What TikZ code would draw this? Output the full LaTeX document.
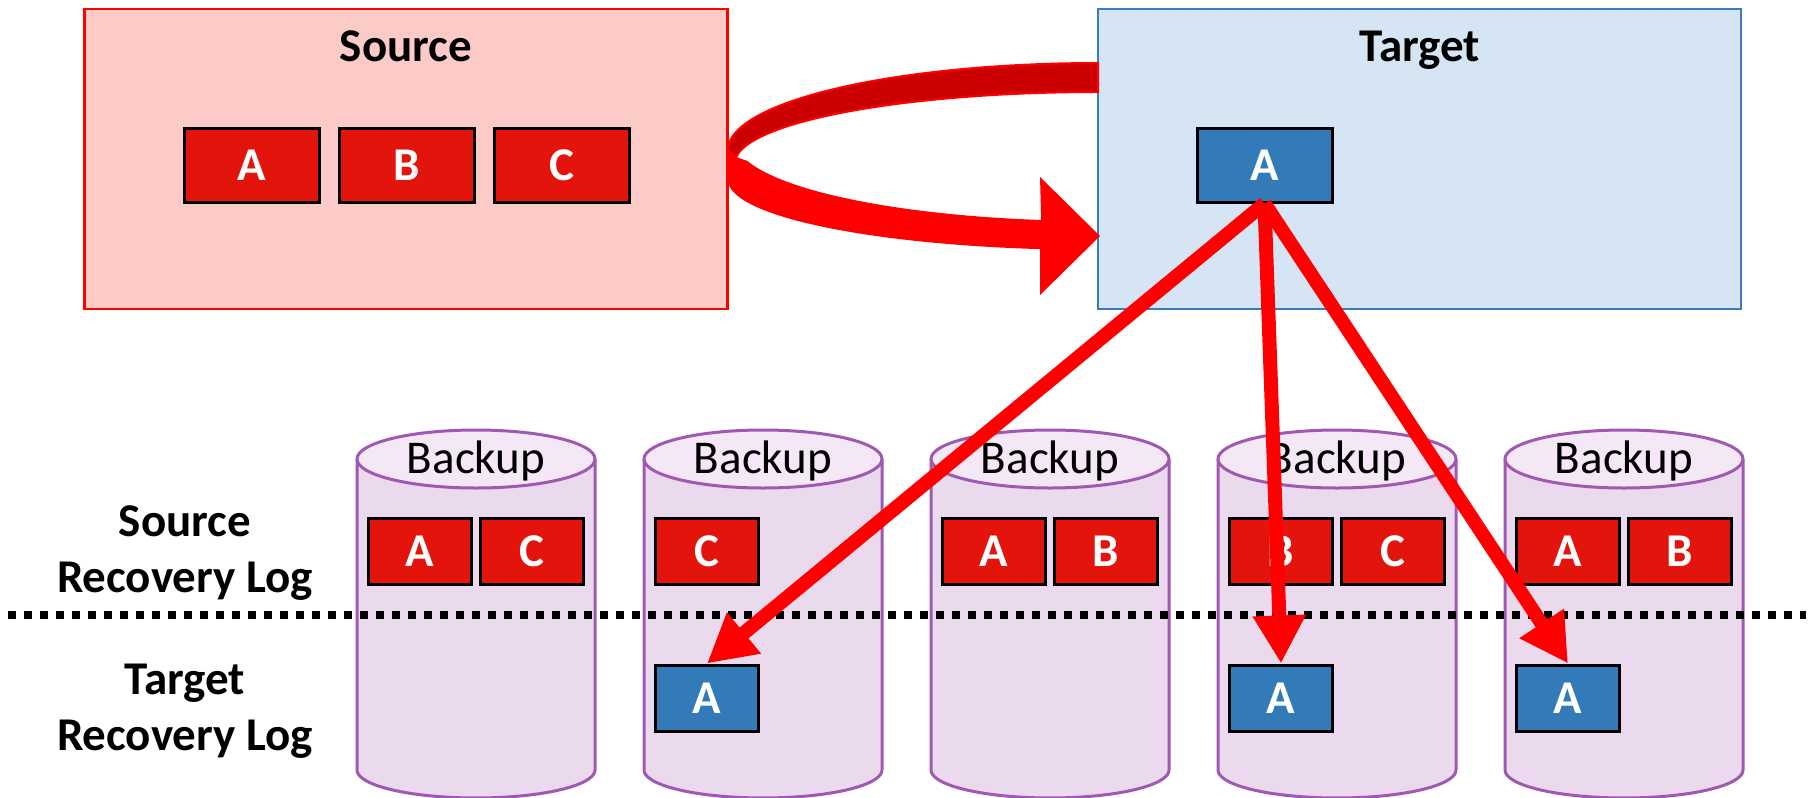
\documentclass[tikz,border=0pt]{standalone}
\usepackage{fontspec}
\setmainfont{Carlito}
\usetikzlibrary{arrows.meta}
\definecolor{srcfill}{HTML}{FCCBC8}
\definecolor{tgtfill}{HTML}{D5E5F3}
\definecolor{tgtline}{HTML}{3A7DBE}
\definecolor{redbox}{HTML}{E3140C}
\definecolor{bluebox}{HTML}{327BB8}
\definecolor{cylfill}{HTML}{EBDAEE}
\definecolor{cyltop}{HTML}{F4E8F6}
\definecolor{cylline}{HTML}{9F59B2}
\definecolor{darkband}{HTML}{CC0000}
\newcommand{\bigtext}{\fontsize{47}{56}\selectfont}
\tikzset{
  pane/.style={minimum width=643pt, minimum height=300pt, line width=2.5pt},
  blk/.style={draw=black, line width=3pt, text=white, font=\bigtext\bfseries, inner sep=0pt,
    minimum width=135pt, minimum height=74pt},
  rblk/.style={blk, fill=redbox},
  bblk/.style={blk, fill=bluebox},
  small/.style={minimum width=103pt, minimum height=66pt},
  ptr/.style={red, line width=14pt, -{Triangle[length=48pt,width=50pt]}}
}
\begin{document}
\begin{tikzpicture}[x=1pt,y=-1pt,font=\bigtext]
\useasboundingbox (0,0) rectangle (1816,798);
% source and target
\node[pane, draw=red, fill=srcfill] (src) at (406,159) {};
\node[pane, draw=tgtline, fill=tgtfill] (tgt) at (1419.5,159) {};
\node[anchor=base, font=\bigtext\bfseries] (srctitle) at (406,61) {Source};
\node[anchor=base, font=\bigtext\bfseries] (tgttitle) at (1419.5,61) {Target};
\node[rblk] (sa) at (252,165) {A};
\node[rblk] (sb) at (407,165) {B};
\node[rblk] (sc) at (562,165) {C};
\node[bblk] (ta) at (1264.5,165) {A};
% turning arrow, back half then front half
\coordinate (turn) at (736,157);
\filldraw[fill=darkband, draw=red, line width=2pt]
  plot[domain=270:180, samples=40] ({1098+370*cos(\x)},{150+87*sin(\x)})
  -- (turn)
  -- plot[domain=175:270, samples=40] ({1098+363*cos(\x)},{163+71*sin(\x)}) -- cycle;
\fill[red] (728,150)
  -- plot[domain=180:99, samples=40] ({1098+370*cos(\x)},{180+70*sin(\x)})
  -- (1040,295) -- (1100,236) -- (1040,177)
  -- plot[domain=99:165, samples=40] ({1098+363*cos(\x)},{140+81*sin(\x)})
  -- (turn) -- cycle;
% backups
\foreach \c [count=\i] in {476,763,1050,1337,1624} {
  \fill[cylfill] (\c-119,459) -- plot[domain=180:0, samples=40] ({\c+119*cos(\x)},{770+28*sin(\x)})
    -- (\c+119,459) -- cycle;
  \draw[cylline, line width=3pt] (\c-119,459)
    -- plot[domain=180:0, samples=40] ({\c+119*cos(\x)},{770+28*sin(\x)}) -- (\c+119,459);
  \filldraw[fill=cyltop, draw=cylline, line width=3pt] (\c,459) ellipse [x radius=119, y radius=29];
  \node[anchor=base] (bk\i) at (\c,473) {Backup};
}
\node[rblk, small] (b1a) at (420,551) {A};
\node[rblk, small] (b1c) at (532,551) {C};
\node[rblk, small] (b2c) at (707,551) {C};
\node[rblk, small] (b3a) at (994,551) {A};
\node[rblk, small] (b3b) at (1106,551) {B};
\node[rblk, small] (b4b) at (1281,551) {B};
\node[rblk, small] (b4c) at (1393,551) {C};
\node[rblk, small] (b5a) at (1568,551) {A};
\node[rblk, small] (b5b) at (1680,551) {B};
\node[bblk, small] (t2) at (707,698) {A};
\node[bblk, small] (t4) at (1281,698) {A};
\node[bblk, small] (t5) at (1568,698) {A};
% divider
\coordinate (dl) at (8,615);
\coordinate (dr) at (1806,615);
\draw[line width=8pt, dash pattern=on 8pt off 8pt] (dl) -- (dr);
\node[align=center, font=\bigtext\bfseries] (srclog) at (185,553) {Source\\Recovery Log};
\node[align=center, font=\bigtext\bfseries] (tgtlog) at (185,711) {Target\\Recovery Log};
% copies of A
\draw[ptr] (ta.south) -- (t2.north);
\draw[ptr] (ta.south) -- (t4.north);
\draw[ptr] (ta.south) -- (t5.north);
\end{tikzpicture}
\end{document}
